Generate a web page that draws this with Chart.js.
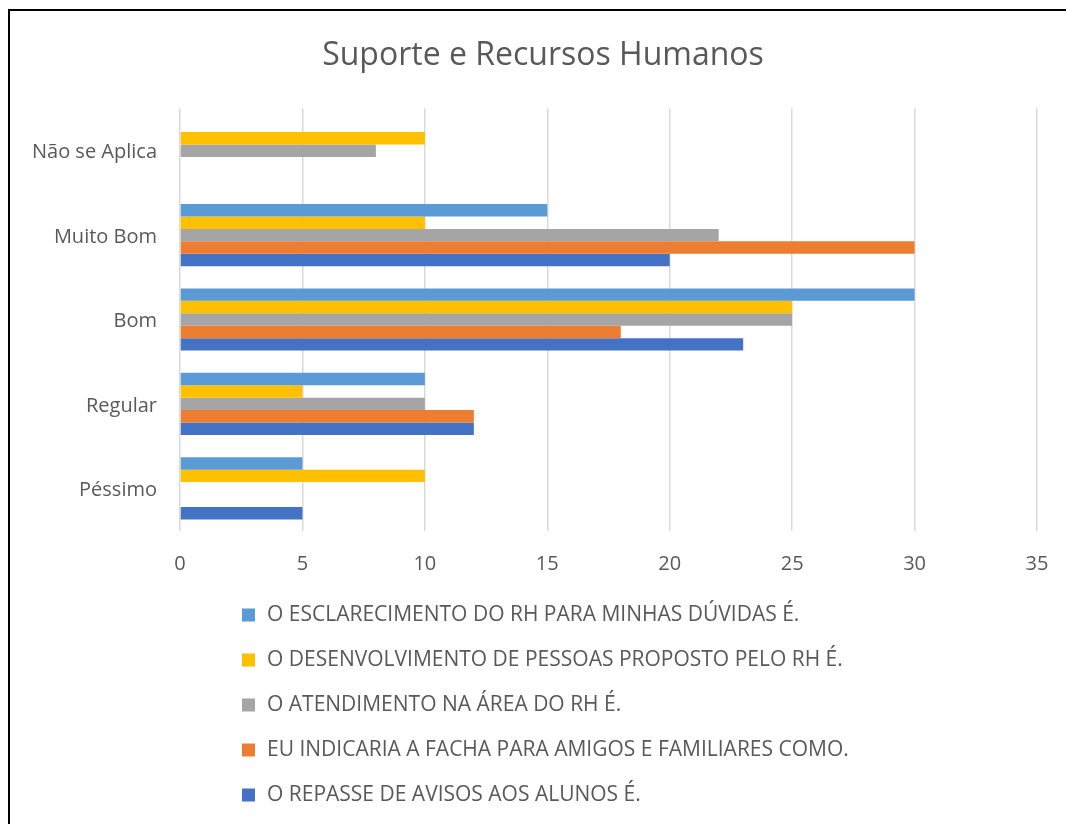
<!DOCTYPE html>
<html>
<head>
<meta charset="utf-8">
<script src="https://cdn.jsdelivr.net/npm/chart.js@4"></script>
<style>
  html, body { margin: 0; padding: 0; background: #fff; overflow: hidden; }
  #chart { display: block; }
</style>
</head>
<body>
<canvas id="chart" width="1066" height="824"></canvas>
<script>
// Categorias (de cima para baixo)
const categories = ['Não se Aplica', 'Muito Bom', 'Bom', 'Regular', 'Péssimo'];

// Séries
const seriesLabels = [
  'O ESCLARECIMENTO DO RH PARA MINHAS DÚVIDAS É.',
  'O DESENVOLVIMENTO DE PESSOAS PROPOSTO PELO RH É.',
  'O ATENDIMENTO NA ÁREA DO RH É.',
  'EU INDICARIA A FACHA PARA AMIGOS E FAMILIARES COMO.',
  'O REPASSE DE AVISOS AOS ALUNOS É.'
];
const esclarecimento = [0, 15, 30, 10, 5];
const desenvolvimento = [10, 10, 25, 5, 10];
const atendimento = [8, 22, 25, 10, 0];
const indicaria = [0, 30, 18, 12, 0];
const repasse = [0, 20, 23, 12, 5];

const xTicks = [0, 5, 10, 15, 20, 25, 30, 35];

const colors = ['#5B9BD5', '#FFC000', '#A5A5A5', '#ED7D31', '#4472C4'];
const seriesValues = [esclarecimento, desenvolvimento, atendimento, indicaria, repasse];

const chartTitle = 'Suporte e Recursos Humanos';
const textColor = '#595959';
Chart.defaults.font.family = "'Open Sans', 'Noto Sans', sans-serif";
Chart.defaults.color = textColor;

// Moldura, título e legenda vertical, como no Excel
const excelDecor = {
  id: 'excelDecor',
  beforeDraw(chart) {
    const ctx = chart.ctx;
    ctx.save();
    ctx.fillStyle = '#000';
    ctx.fillRect(8, 9, 2, chart.height - 9);   // lado esquerdo
    ctx.fillRect(8, 9, chart.width - 8, 2);    // topo
    ctx.restore();
  },
  afterDraw(chart) {
    const ctx = chart.ctx;
    ctx.save();
    ctx.fillStyle = textColor;
    ctx.textBaseline = 'middle';
    ctx.textAlign = 'center';
    ctx.font = "32px 'Open Sans'";
    ctx.fillText(chartTitle, 543, 56);

    ctx.font = "21px 'Open Sans'";
    ctx.textAlign = 'left';
    chart.data.datasets.forEach((ds, i) => {
      const y = 615 + i * 45;
      ctx.fillStyle = ds.backgroundColor;
      ctx.fillRect(242, y - 6.5, 13, 13);
      ctx.fillStyle = textColor;
      ctx.fillText(ds.label, 267, y);
    });
    ctx.restore();
  }
};

new Chart(document.getElementById('chart'), {
  type: 'bar',
  data: {
    labels: categories,
    datasets: seriesValues.map((vals, i) => ({
      label: seriesLabels[i],
      data: vals,
      backgroundColor: colors[i],
      borderWidth: 0,
      categoryPercentage: 0.737,
      barPercentage: 1
    }))
  },
  options: {
    indexAxis: 'y',
    responsive: false,
    animation: false,
    layout: { padding: { left: 0, right: 29, top: 108.5, bottom: 244 } },
    plugins: {
      legend: { display: false },
      tooltip: { enabled: false },
      title: { display: false }
    },
    scales: {
      x: {
        min: 0,
        max: 35,
        afterBuildTicks(scale) { scale.ticks = xTicks.map(v => ({ value: v })); },
        afterFit(scale) {
          scale.height = 49.5;
          scale.paddingLeft = 0;
          scale.paddingRight = 0;
        },
        grid: { color: '#D9D9D9', lineWidth: 1.5, drawTicks: false },
        border: { display: false },
        ticks: { font: { size: 20 }, color: textColor, padding: 22 }
      },
      y: {
        afterFit(scale) { scale.width = 180; },
        grid: { display: false, drawTicks: false },
        border: { display: false },
        ticks: { font: { size: 20 }, color: textColor, padding: 23, labelOffset: 2 }
      }
    }
  },
  plugins: [excelDecor]
});
</script>
</body>
</html>
